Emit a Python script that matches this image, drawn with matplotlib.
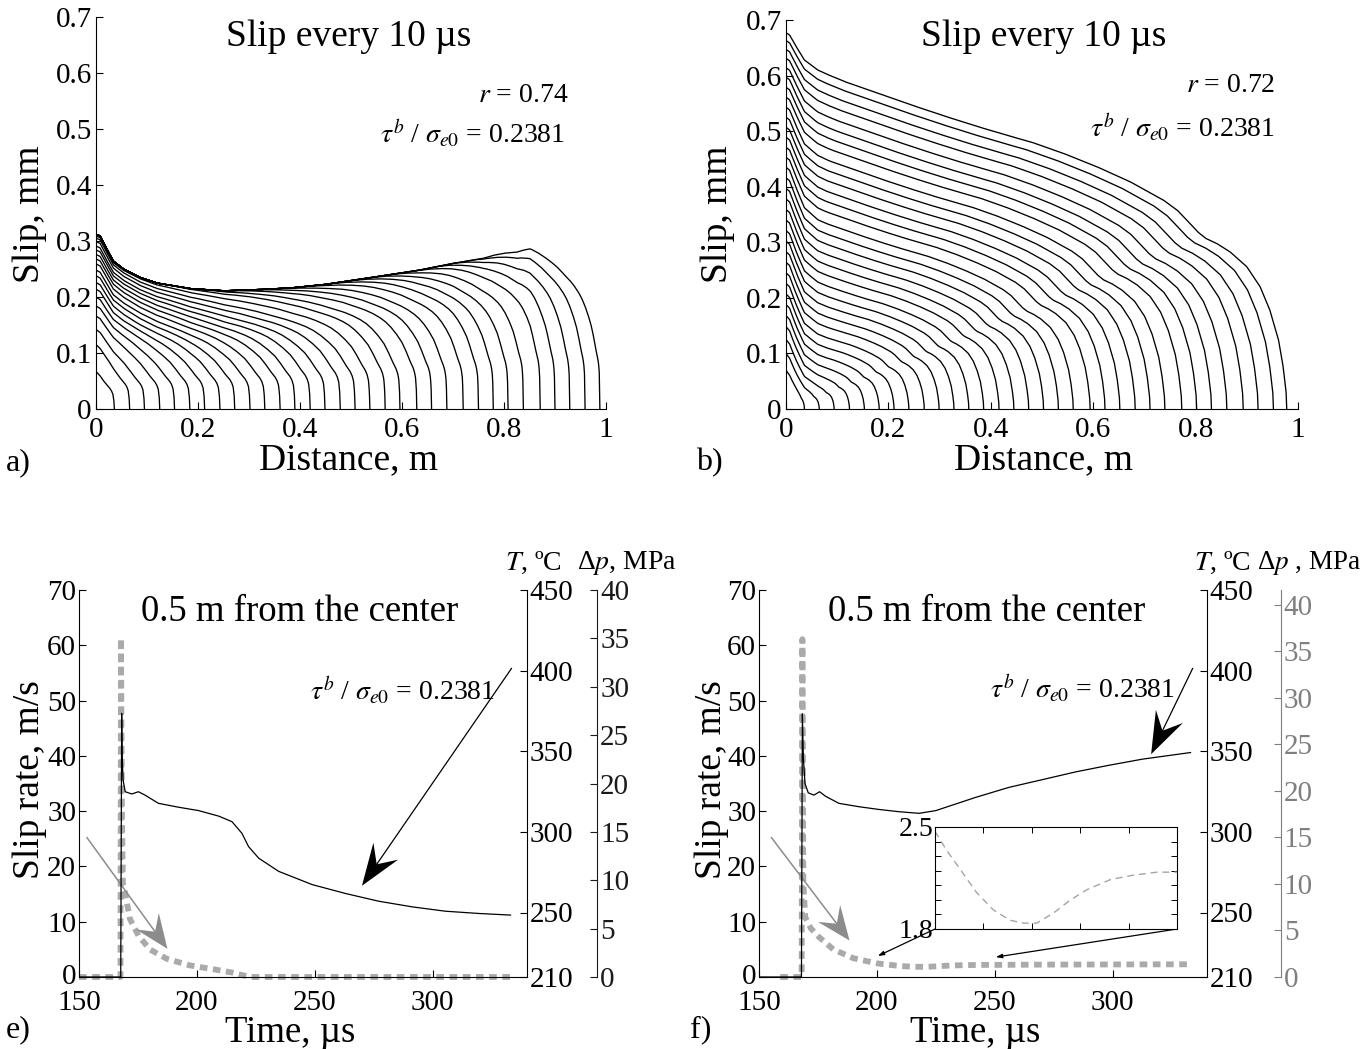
import numpy as np
import matplotlib
matplotlib.use("Agg")
import matplotlib.pyplot as plt
from matplotlib.patches import Polygon
from matplotlib.transforms import IdentityTransform, ScaledTranslation

plt.rcParams['font.family'] = 'Liberation Serif'
plt.rcParams['mathtext.fontset'] = 'stix'
plt.rcParams['lines.scale_dashes'] = False
plt.rcParams['axes.linewidth'] = 0.8

W, H = 1362, 1049

## Slip profiles every 10 us, panel a (r = 0.74)
front_a = [0.036, 0.066, 0.095, 0.125, 0.154, 0.184, 0.213, 0.243, 0.272, 0.302, 0.331,
           0.361, 0.390, 0.420, 0.449, 0.479, 0.508, 0.537, 0.567, 0.596, 0.629, 0.658,
           0.688, 0.720, 0.750, 0.779, 0.808, 0.838, 0.871, 0.900, 0.929, 0.959, 0.988]
base_a = [0.067, 0.115, 0.142, 0.166, 0.184, 0.200, 0.214, 0.226, 0.238, 0.248, 0.259,
          0.268, 0.276, 0.284, 0.291, 0.299, 0.305, 0.309, 0.312, 0.312, 0.312, 0.312,
          0.312, 0.312, 0.312, 0.312, 0.312, 0.312, 0.312, 0.312, 0.312, 0.312, 0.312]
# outer boundary of the family of profiles
env_a_x = [0.0, 0.008, 0.021, 0.034, 0.054, 0.086, 0.119, 0.184, 0.250, 0.315, 0.380,
           0.446, 0.498, 0.563, 0.629, 0.694, 0.759, 0.825, 0.851]
env_a_y = [0.312, 0.309, 0.286, 0.264, 0.250, 0.235, 0.225, 0.215, 0.211, 0.213, 0.216,
           0.222, 0.229, 0.238, 0.247, 0.259, 0.269, 0.280, 0.286]
# fraction of the final slip reached at a distance d behind the rupture front
pulse_d = [0.0, 0.001, 0.003, 0.006, 0.010, 0.015, 0.020, 0.030, 0.040, 0.055, 0.070,
           0.085, 0.100, 0.120, 0.140, 0.170, 0.200, 0.230, 0.260, 0.290, 0.320, 0.360,
           0.400, 0.450, 0.500]
pulse_f = [0.0, 0.13, 0.22, 0.265, 0.30, 0.33, 0.36, 0.43, 0.49, 0.555, 0.61, 0.655,
           0.69, 0.728, 0.76, 0.80, 0.84, 0.872, 0.90, 0.925, 0.945, 0.965, 0.98, 0.993,
           1.0]
# the pulse gets shorter as the front approaches the end of the fault
squeeze_front = [0.0, 0.50, 0.988]
squeeze = [1.0, 1.0, 2.4]

## panel b (r = 0.72)
front_b = [0.036, 0.065, 0.094, 0.124, 0.153, 0.182, 0.211, 0.240, 0.270, 0.299, 0.328,
           0.357, 0.386, 0.416, 0.445, 0.474, 0.503, 0.532, 0.561, 0.594, 0.623, 0.652,
           0.682, 0.711, 0.740, 0.773, 0.802, 0.831, 0.861, 0.893, 0.922, 0.952, 0.978]
base_b = [0.070, 0.100, 0.125, 0.148, 0.168, 0.188, 0.207, 0.226, 0.245, 0.264, 0.283,
          0.302, 0.321, 0.340, 0.359, 0.378, 0.397, 0.416, 0.435, 0.453, 0.471, 0.489,
          0.507, 0.525, 0.543, 0.561, 0.579, 0.597, 0.614, 0.631, 0.647, 0.663, 0.677]
top_b_x = [0.0, 0.007, 0.020, 0.036, 0.062, 0.115, 0.180, 0.245, 0.310, 0.375, 0.441,
           0.480, 0.542, 0.607, 0.672, 0.737, 0.765, 0.789, 0.805, 0.820, 0.841, 0.867,
           0.900, 0.926, 0.945, 0.962, 0.971, 0.977, 0.978]
top_b_y = [0.677, 0.673, 0.652, 0.628, 0.610, 0.589, 0.568, 0.547, 0.527, 0.508, 0.490,
           0.480, 0.460, 0.436, 0.409, 0.376, 0.357, 0.334, 0.318, 0.307, 0.298, 0.283,
           0.256, 0.220, 0.178, 0.124, 0.076, 0.028, 0.0]
# nucleation bump near the centre
bump_x = [0.0, 0.007, 0.020, 0.036, 0.062, 0.080]
bump_y = [1.0, 0.97, 0.60, 0.19, 0.02, 0.0]
bump_top = 0.042

## histories 0.5 m from the centre (e, f)
t_rate_e = [150.0, 167.6, 167.8, 168.2, 168.6, 169.5, 171.6, 175.2, 180.0, 187.2, 197.0,
            207.0, 215.0, 222.5, 333.0]
rate_e = [0.0, 0.0, 61.3, 30.0, 17.0, 15.3, 10.5, 7.5, 5.0, 3.3, 2.1, 1.4, 0.8, 0.0, 0.0]
t_temp_e = [150.0, 167.7, 168.1, 168.3, 168.7, 169.6, 172.4, 175.2, 178.0, 183.7, 192.2,
            200.7, 209.2, 214.9, 219.1, 221.9, 226.2, 234.7, 248.9, 263.0, 277.1, 291.3,
            305.4, 319.5, 333.0]
temp_e = [210.0, 210.0, 373.5, 346.5, 332.1, 324.9, 323.5, 324.9, 322.8, 317.7, 315.3,
          313.2, 309.8, 306.3, 299.1, 290.9, 283.7, 275.5, 267.3, 261.8, 257.0, 253.5,
          250.8, 249.4, 248.4]

t_rate_f = [159.0, 168.1, 168.4, 168.8, 169.6, 172.0, 175.5, 181.5, 190.0, 200.0, 202.4,
            205.2, 208.6, 212.1, 215.5, 218.3, 221.0, 224.5, 228.0, 231.4, 236.3, 241.1,
            245.9, 250.0, 270.0, 300.0, 333.0]
rate_f = [0.0, 0.0, 61.1, 17.0, 10.8, 8.8, 7.2, 5.0, 3.4, 2.47, 2.34, 2.21, 2.05, 1.93,
          1.86, 1.84, 1.84, 1.91, 2.0, 2.07, 2.14, 2.17, 2.19, 2.19, 2.24, 2.27, 2.30]
t_temp_f = [150.0, 168.0, 168.4, 168.8, 169.5, 170.9, 173.3, 175.7, 178.2, 183.9, 192.4,
            200.9, 209.4, 217.9, 225.0, 232.0, 241.9, 256.0, 270.2, 284.3, 298.4, 312.6,
            333.0]
temp_f = [210.0, 210.0, 373.2, 346.5, 330.0, 324.2, 322.8, 324.9, 322.1, 317.7, 315.6,
          313.9, 312.5, 311.5, 313.2, 316.6, 321.4, 327.6, 332.4, 337.2, 341.3, 345.1,
          349.2]

dist_ticks = [0, 0.2, 0.4, 0.6, 0.8, 1]
dist_labels = ['0', '0.2', '0.4', '0.6', '0.8', '1']
slip_ticks = [0, 0.1, 0.2, 0.3, 0.4, 0.5, 0.6, 0.7]
slip_labels = ['0', '0.1', '0.2', '0.3', '0.4', '0.5', '0.6', '0.7']
time_ticks = [150, 200, 250, 300]
rate_ticks = [0, 10, 20, 30, 40, 50, 60, 70]
temp_ticks = [210, 250, 300, 350, 400, 450]
dp_ticks = [0, 5, 10, 15, 20, 25, 30, 35, 40]
ratio_txt = r'$\tau^b$ / $\sigma_{e0}$ = 0.2381'

GREY = '#aaaaaa'
ARROW_GREY = '#8c8c8c'


def rect(l, t, r, b):
    return [l / W, 1 - b / H, (r - l) / W, (b - t) / H]


def ftext(px, py, s, **kw):
    fig.text(px / W, 1 - py / H, s, **kw)


fig = plt.figure(figsize=(W / 100, H / 100), dpi=100)


def profile_axes(box):
    ax = fig.add_axes(rect(*box))
    ax.set_xlim(0, 1)
    ax.set_ylim(0, 0.7)
    ax.spines['top'].set_visible(False)
    ax.spines['right'].set_visible(False)
    ax.set_xticks(dist_ticks)
    ax.set_xticklabels(dist_labels)
    ax.set_yticks(slip_ticks)
    ax.set_yticklabels(slip_labels)
    ax.tick_params(direction='in', length=5, width=0.8, labelsize=21)
    ax.tick_params(axis='x', pad=6)
    ax.tick_params(axis='y', pad=3)
    return ax


# a) pulse-like rupture: slip stops growing behind the pulse
ax = profile_axes((96, 17, 606, 409))
env_x = np.array(env_a_x)
k_last = np.interp(front_a[-1], squeeze_front, squeeze)
final_a = np.array(env_a_y) / np.interp(k_last * (front_a[-1] - env_x), pulse_d, pulse_f)
for front, base in zip(front_a, base_a):
    k = np.interp(front, squeeze_front, squeeze)
    x = np.linspace(0, front, 800)
    shape = np.interp(x, env_x, final_a) * np.interp(k * (front - x), pulse_d, pulse_f)
    ax.plot(x, shape * base / shape[0], color='k', lw=0.95)

# b) crack-like rupture: self-similar profiles plus nucleation bump
ax = profile_axes((786, 20, 1298, 409))
top_x = np.array(top_b_x)
body_top = top_b_y[0] - bump_top
g_s = top_x / front_b[-1]
g_v = np.array(top_b_y) / (body_top + bump_top * np.interp(top_x, bump_x, bump_y))
for front, base in zip(front_b, base_b):
    x = np.linspace(0, front, 800)
    c = body_top * front / front_b[-1]
    n = base - c
    y = np.interp(x / front, g_s, g_v) * (c + n * np.interp(x, bump_x, bump_y))
    ax.plot(x, y, color='k', lw=0.95)

for cx in (349, 1044):
    ftext(cx, 37, 'Slip every 10 µs', fontsize=27, ha='center', va='center')
    ftext(cx, 460, 'Distance, m', fontsize=27, ha='center', va='center')
ftext(30, 214, 'Slip, mm', fontsize=27, rotation=90, ha='center', va='center')
ftext(718, 214, 'Slip, mm', fontsize=27, rotation=90, ha='center', va='center')
ftext(568, 95, r'$r$ = 0.74', fontsize=20, ha='right', va='center')
ftext(565, 133, ratio_txt, fontsize=20, ha='right', va='center')
ftext(1275, 85, r'$r$ = 0.72', fontsize=20, ha='right', va='center')
ftext(1275, 127, ratio_txt, fontsize=20, ha='right', va='center')
ftext(6, 463, 'a)', fontsize=23, ha='left', va='center')
ftext(696, 463, 'b)', fontsize=23, ha='left', va='center')


def history_axes(box, dp_pos, dp_top, dp_color):
    ax = fig.add_axes(rect(*box))
    ax.set_xlim(150, 340)
    ax.set_ylim(0, 70)
    ax.spines['top'].set_visible(False)
    ax.spines['right'].set_visible(False)
    ax.set_xticks(time_ticks)
    ax.set_yticks(rate_ticks)
    ax.tick_params(direction='in', length=5, width=0.8, labelsize=21)
    ax.tick_params(axis='x', pad=9.5)
    ax.tick_params(axis='y', pad=2)
    # lift the "0" a little so it clears the first time label
    lab = ax.yaxis.get_major_ticks()[0].label1
    lab.set_transform(lab.get_transform() + ScaledTranslation(0, 0.03, fig.dpi_scale_trans))

    axT = ax.twinx()
    axT.set_ylim(210, 450)
    axT.set_yticks(temp_ticks)
    for s in ('top', 'left', 'bottom'):
        axT.spines[s].set_visible(False)
    axT.tick_params(direction='in', length=5, width=0.8, labelsize=21, pad=2)

    axP = ax.twinx()
    axP.set_ylim(0, dp_top)
    axP.set_yticks(dp_ticks)
    for s in ('top', 'left', 'bottom'):
        axP.spines[s].set_visible(False)
    axP.spines['right'].set_position(('axes', dp_pos))
    axP.spines['right'].set_color(dp_color)
    axP.tick_params(direction='in', length=5, width=0.8, labelsize=21, pad=2,
                    colors=dp_color)
    return ax, axT


def barbed_arrow(ax, tail, head, color, lw, length, width):
    # straight shaft with a concave (barbed) head; head size in pixels
    p0 = ax.transData.transform(tail)
    p1 = ax.transData.transform(head)
    u = (p1 - p0) / np.hypot(*(p1 - p0))
    n = np.array([-u[1], u[0]])
    back = p1 - length * u
    notch = p1 - 0.62 * length * u
    pts = [p1, back + 0.5 * width * n, notch, back - 0.5 * width * n]
    nd = ax.transData.inverted().transform(notch)
    ax.plot([tail[0], nd[0]], [tail[1], nd[1]], color=color, lw=lw, clip_on=False,
            zorder=6)
    ax.add_patch(Polygon(pts, closed=True, transform=IdentityTransform(), color=color,
                         lw=0, clip_on=False, zorder=6))


# e)
ax, axT = history_axes((79, 590, 527, 977), 1.157, 40, '#1a1a1a')
ax.plot(t_rate_e, rate_e, color=GREY, lw=4.2, dashes=(5.5, 4.0), clip_on=False)
axT.plot(t_temp_e, temp_e, color='k', lw=0.9)
barbed_arrow(ax, (153.4, 25.2), (187.5, 5.1), ARROW_GREY, 1.1, 34, 28)
barbed_arrow(ax, (333.4, 55.8), (270.0, 16.5), 'k', 0.9, 42, 30)

# f)
ax, axT = history_axes((759, 590, 1207, 977), 1.165, 41.6, '#7f7f7f')
ax.plot(t_rate_f, rate_f, color=GREY, lw=4.2, dashes=(5.5, 4.0), clip_on=False)
axT.plot(t_temp_f, temp_f, color='k', lw=0.9)
barbed_arrow(ax, (155.3, 25.2), (188.4, 6.6), ARROW_GREY, 1.1, 34, 28)
barbed_arrow(ax, (333.9, 55.8), (316.3, 40.3), 'k', 0.9, 42, 30)

# zoom on the slip-rate minimum
ins = fig.add_axes(rect(935, 827, 1177, 929))
tf = np.array(t_rate_f)
rf = np.array(rate_f)
keep = (tf >= 200) & (tf <= 250)
ins.plot(tf[keep], rf[keep], color='#a5a5a5', lw=1.0, dashes=(5, 3.5))
ins.set_xlim(200, 250)
ins.set_ylim(1.8, 2.5)
ins.set_xticks([210, 220, 230, 240])
ins.set_xticklabels([])
ins.set_yticks(np.arange(1.8, 2.55, 0.1))
ins.set_yticklabels(['1.8', '', '', '', '', '', '', '2.5'])
ins.tick_params(direction='in', length=4, width=0.7, labelsize=20, pad=1,
                top=True, right=True)
for tail, head in (((0, 0), (200.4, 3.8)), ((1, 0), (250.4, 3.6))):
    ax.annotate('', xy=head, xycoords='data', xytext=tail, textcoords=ins.transAxes,
                arrowprops=dict(arrowstyle='-|>,head_length=0.3,head_width=0.1',
                                color='k', lw=0.9, mutation_scale=12,
                                shrinkA=0, shrinkB=0))

ftext(300, 612, '0.5 m from the center', fontsize=26.5, ha='center', va='center')
ftext(987, 612, '0.5 m from the center', fontsize=26.5, ha='center', va='center')
ftext(495, 690, ratio_txt, fontsize=20, ha='right', va='center')
ftext(1175, 688, ratio_txt, fontsize=20, ha='right', va='center')
ftext(290, 1033, 'Time, µs', fontsize=26.5, ha='center', va='center')
ftext(975, 1033, 'Time, µs', fontsize=26.5, ha='center', va='center')
ftext(30, 780, 'Slip rate, m/s', fontsize=27, rotation=90, ha='center', va='center')
ftext(712, 780, 'Slip rate, m/s', fontsize=27, rotation=90, ha='center', va='center')
ftext(533, 563, r'$T$, ºC', fontsize=20, ha='center', va='center')
ftext(627, 563, r'Δ$p$, MPa', fontsize=20, ha='center', va='center')
ftext(1222, 563, r'$T$, ºC', fontsize=20, ha='center', va='center')
ftext(1361, 563, r'Δ$p$ , MPa', fontsize=19.5, ha='right', va='center')
ftext(6, 1030, 'e)', fontsize=23, ha='left', va='center')
ftext(690, 1030, 'f)', fontsize=23, ha='left', va='center')

fig.savefig('out.png', dpi=100)
